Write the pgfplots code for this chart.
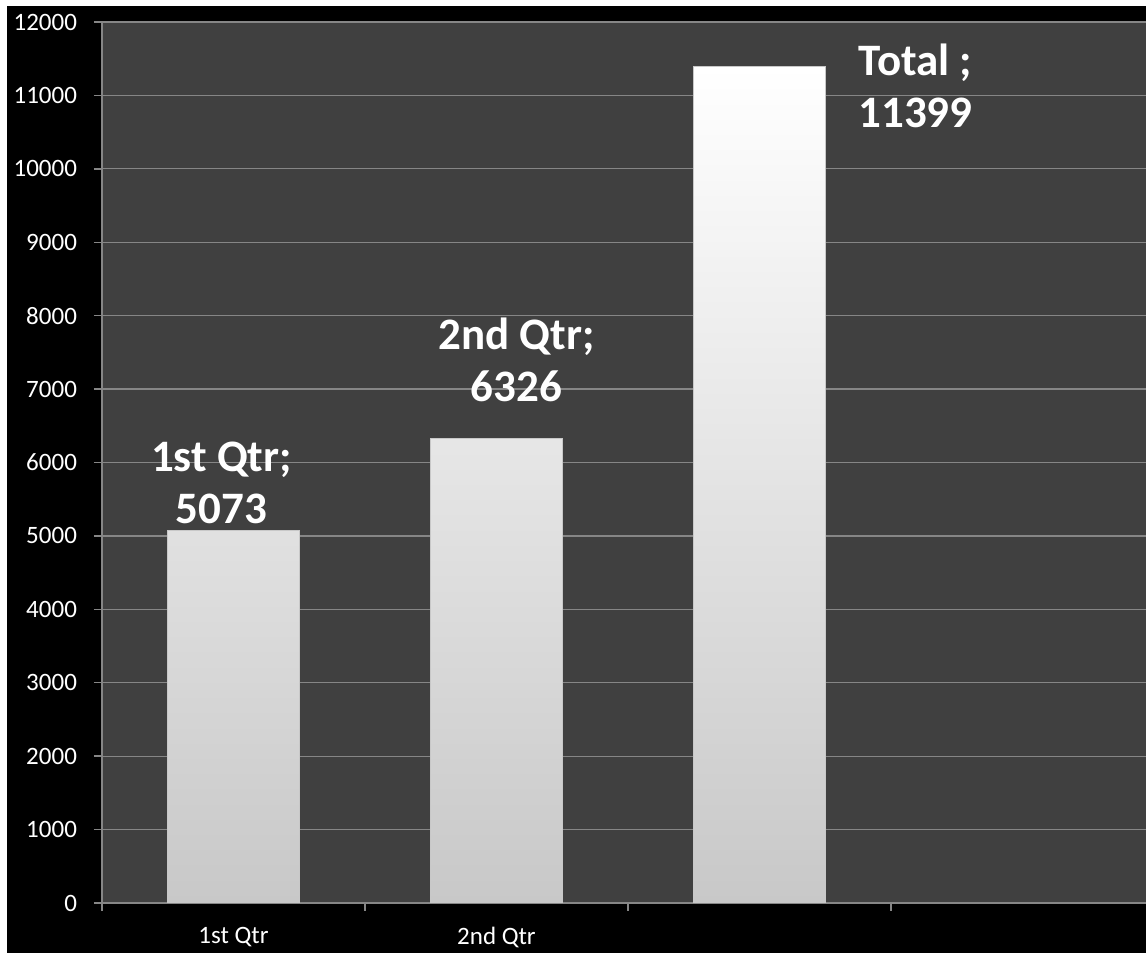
\documentclass[border=0pt]{standalone}
\usepackage{pgfplots}
\usepackage{pgfplotstable}
\usepackage{fontspec}
\setmainfont{Carlito}
\pgfplotsset{compat=1.18}

\definecolor{plotbg}{RGB}{64,64,64}
\definecolor{gridgray}{RGB}{134,134,134}
\definecolor{barbottom}{RGB}{200,200,200}

% x, value, label text, label offsets (pt)
\pgfplotstableread{
x  y     name        dx   dy
0  5073  {1st Qtr;}  -6   3
1  6326  {2nd Qtr;}  10   18
2  11399 {Total ;}   78   -31
}\sales

\begin{document}
\begin{tikzpicture}
% page and black chart area
\useasboundingbox (-51pt,-25pt) rectangle (522pt,451.5pt);
\fill[white] (-51pt,-25pt) rectangle (522pt,451.5pt);
\fill[black] (-47.5pt,-25pt) rectangle (522pt,448.5pt);
\begin{axis}[
  at={(0,0)}, anchor=south west,
  scale only axis,
  width=522pt, height=440.5pt,
  xmin=-0.5, xmax=3.47,
  ymin=0, ymax=12000,
  ytick distance=1000,
  scaled y ticks=false,
  axis background/.style={fill=plotbg},
  axis x line*=bottom, axis y line*=left,
  axis line style={gridgray, line width=0.7pt},
  ymajorgrids,
  grid style={gridgray, line width=0.6pt},
  tick align=outside,
  major tick length=4pt,
  tick style={gridgray, line width=0.7pt},
  xtick={-0.5,0.5,1.5,2.5},
  xticklabels={},
  extra x ticks={0,1},
  extra x tick labels={1st Qtr,2nd Qtr},
  extra x tick style={major tick length=0pt, grid=none,
    xticklabel style={yshift=-8.5pt}},
  ticklabel style={font=\fontsize{12.5}{15}\selectfont, text=white},
  yticklabel style={xshift=-5pt},
  /pgf/number format/assume math mode=true,
  /pgf/number format/1000 sep={},
]
\addplot[ybar, bar width=0.5, draw=barbottom, line width=0.5pt,
  top color=white, bottom color=barbottom,
  point meta=explicit symbolic,
  visualization depends on={y\as\yval},
  visualization depends on={\thisrow{dx}\as\dx},
  visualization depends on={\thisrow{dy}\as\dy},
  nodes near coords={\pgfplotspointmeta\\\pgfmathprintnumber[fixed, precision=0]{\yval}},
  nodes near coords style={anchor=south, align=center, inner sep=0pt,
    text=white, font=\bfseries\fontsize{22.5}{26}\selectfont,
    xshift=\dx pt, yshift=\dy pt},
] table[x=x, y=y, meta=name] {\sales};
\end{axis}
\end{tikzpicture}
\end{document}
